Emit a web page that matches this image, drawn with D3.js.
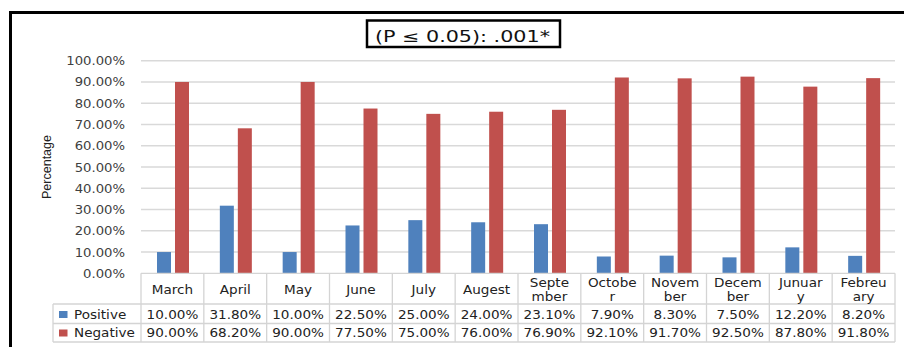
<!DOCTYPE html>
<html>
<head>
<meta charset="utf-8">
<script src="https://cdn.jsdelivr.net/npm/d3@7"></script>
<style>
  html, body { margin: 0; padding: 0; background: #fff; }
  svg { display: block; }
</style>
</head>
<body>
<svg id="chart" width="904" height="347"></svg>
<script>
// Monthly share of positive / negative results
const months = ["March", "April", "May", "June", "July", "Augest", "September", "October", "November", "December", "Junuary", "Febreuary"];
const monthLabels = [["March"], ["April"], ["May"], ["June"], ["July"], ["Augest"], ["Septe", "mber"], ["Octobe", "r"], ["Novem", "ber"], ["Decem", "ber"], ["Junuar", "y"], ["Febreu", "ary"]];
const seriesNames = ["Positive", "Negative"];
const positive = [10.00, 31.80, 10.00, 22.50, 25.00, 24.00, 23.10, 7.90, 8.30, 7.50, 12.20, 8.20];
const negative = [90.00, 68.20, 90.00, 77.50, 75.00, 76.00, 76.90, 92.10, 91.70, 92.50, 87.80, 91.80];
const yTicks = [0, 10, 20, 30, 40, 50, 60, 70, 80, 90, 100];
const titleText = "(P \u2264 0.05): .001*";

const colors = { Positive: "#4f81bd", Negative: "#c0504d" };
const seriesValues = { Positive: positive, Negative: negative };
const fmt = v => v.toFixed(2) + "%";

const svg = d3.select("#chart");
const FONT = "'DejaVu Sans', Verdana, sans-serif";
const STRETCH = 1.13;

// Plot geometry
const plotLeft = 141, plotRight = 895, plotTop = 60.7, plotBottom = 273.3;
const rowCat = plotBottom, rowPos = 304, rowNeg = 323.5, rowEnd = 342;
const legendLeft = 53;

const x0 = d3.scaleBand().domain(months).range([plotLeft, plotRight]);
const x1 = d3.scaleBand().domain(seriesNames).range([16, 48]).paddingInner(0.222);
const y = d3.scaleLinear().domain([0, 100]).range([plotBottom, plotTop]);

// Outer frame (runs off the right and bottom edges)
svg.append("path")
  .attr("d", "M10.5,360 V12.5 H920")
  .attr("fill", "none").attr("stroke", "#000").attr("stroke-width", 3);

// Horizontal gridlines
svg.append("g").selectAll("line").data(yTicks.filter(t => t > 0)).join("line")
  .attr("x1", plotLeft).attr("x2", plotRight)
  .attr("y1", d => y(d)).attr("y2", d => y(d))
  .attr("stroke", "#d9d9d9").attr("stroke-width", 1.5);

// Y axis labels
const yAxis = svg.append("g").attr("transform", `translate(${plotLeft},0)`)
  .call(d3.axisLeft(y).tickValues(yTicks).tickFormat(fmt).tickSize(0));
yAxis.select(".domain").remove();
yAxis.selectAll("text")
  .attr("x", -16 / 1.15).attr("dy", "0.35em")
  .attr("transform", "scale(1.15,1)")
  .attr("font-family", FONT).attr("font-size", 11.5).attr("fill", "#404040");

// Y axis title
svg.append("text")
  .attr("transform", "translate(50.5,167) rotate(-90)")
  .attr("text-anchor", "middle")
  .attr("font-family", "'Liberation Sans', Arial, sans-serif").attr("font-size", 12.5)
  .attr("fill", "#222").text("Percentage");

// Bars
const groups = svg.append("g").selectAll("g").data(months).join("g")
  .attr("transform", d => `translate(${x0(d)},0)`);
groups.selectAll("rect")
  .data((m, i) => seriesNames.map(s => ({ s, v: seriesValues[s][i] })))
  .join("rect")
  .attr("x", d => x1(d.s)).attr("width", x1.bandwidth())
  .attr("y", d => y(d.v)).attr("height", d => y(0) - y(d.v))
  .attr("fill", d => colors[d.s]);

// Data table below the plot
const grid = svg.append("g").attr("stroke", "#d4d4d4").attr("stroke-width", 1.3).attr("fill", "none");
const edges = months.map(m => x0(m)).concat([plotRight]);
grid.selectAll(".v").data(edges).join("line")
  .attr("x1", d => d).attr("x2", d => d).attr("y1", rowCat).attr("y2", rowEnd);
grid.append("line").attr("x1", legendLeft).attr("x2", legendLeft).attr("y1", rowPos).attr("y2", rowEnd);
grid.selectAll(".h").data([rowPos, rowNeg, rowEnd]).join("line")
  .attr("x1", legendLeft).attr("x2", plotRight).attr("y1", d => d).attr("y2", d => d);
grid.append("line").attr("x1", plotLeft).attr("x2", plotRight).attr("y1", rowCat).attr("y2", rowCat);

function stretchedText(parent, tx, ty, str, anchor, size, fill) {
  return parent.append("text")
    .attr("transform", `translate(${tx},${ty}) scale(${STRETCH},1)`)
    .attr("text-anchor", anchor).attr("dy", "0.35em")
    .attr("font-family", FONT).attr("font-size", size).attr("fill", fill)
    .text(str);
}

const table = svg.append("g");
months.forEach((m, i) => {
  const cx = x0(m) + x0.bandwidth() / 2;
  const lines = monthLabels[i];
  if (lines.length === 1) {
    stretchedText(table, cx, 289.5, lines[0], "middle", 12, "#222");
  } else {
    stretchedText(table, cx, 283, lines[0], "middle", 12, "#222");
    stretchedText(table, cx, 297, lines[1], "middle", 12, "#222");
  }
  stretchedText(table, cx, 314.5, fmt(positive[i]), "middle", 12, "#222");
  stretchedText(table, cx, 333, fmt(negative[i]), "middle", 12, "#222");
});

// Legend keys in the first table column
seriesNames.forEach((s, i) => {
  const cy = i === 0 ? 314.5 : 333;
  table.append("rect").attr("x", 59).attr("y", cy - 3.5).attr("width", 8.5).attr("height", 7)
    .attr("fill", colors[s]);
  stretchedText(table, 74, cy, s, "start", 12, "#222");
});

// Significance box
svg.append("rect").attr("x", 367).attr("y", 20.5).attr("width", 193).attr("height", 26.5)
  .attr("fill", "#fff").attr("stroke", "#000").attr("stroke-width", 2.5);
svg.append("text")
  .attr("x", 375).attr("y", 41.5)
  .attr("textLength", 175).attr("lengthAdjust", "spacingAndGlyphs")
  .attr("font-family", FONT).attr("font-size", 15).attr("fill", "#111")
  .text(titleText);
</script>
</body>
</html>
